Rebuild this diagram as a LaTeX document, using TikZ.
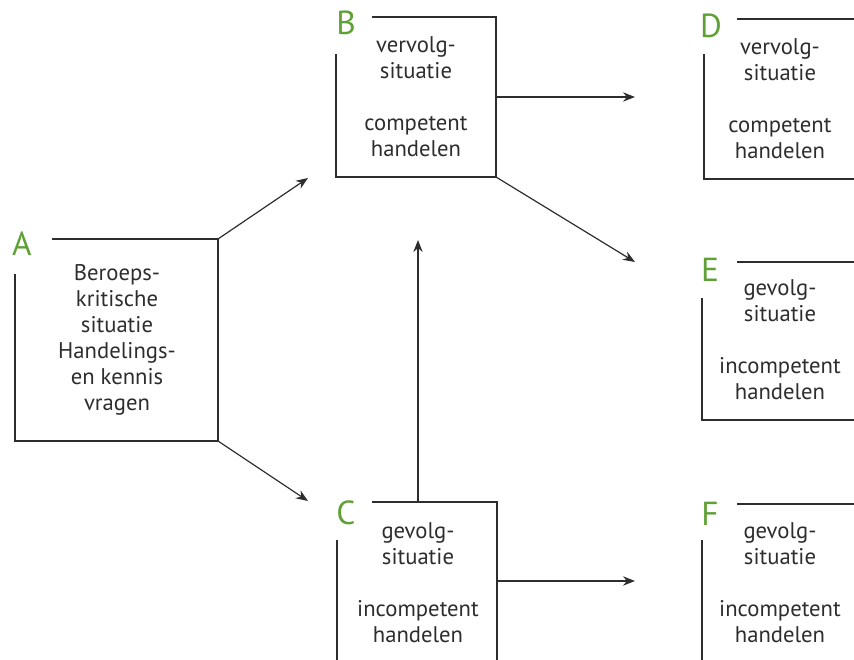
\documentclass[tikz,border=0pt]{standalone}
\usepackage{fontspec}
\setmainfont{PT Sans}
\usetikzlibrary{arrows.meta}
\definecolor{lijn}{RGB}{45,45,45}
\definecolor{letter}{RGB}{95,160,55}
\tikzstyle{every node}=[text=lijn,inner sep=0pt]
\tikzstyle{kader}=[draw=lijn,line width=1pt]
\tikzstyle{pijl}=[draw=lijn,line width=0.9pt,-{Stealth[length=9pt,width=7pt]}]
\tikzstyle{tekst}=[align=center,font=\fontsize{17}{19.5}\selectfont]
\tikzstyle{letter}=[text=letter,font=\fontsize{25}{25}\selectfont]

\begin{document}
\begin{tikzpicture}[x=0.75pt,y=-0.75pt]
  \useasboundingbox (0,0) rectangle (854,660);
  % hoeken van de kaders
  \coordinate (Ane) at (218,239);
  \coordinate (Ase) at (218,441);
  \coordinate (Be) at (496,97);
  \coordinate (Bse) at (496,177);
  \coordinate (Cn) at (418,502);
  \coordinate (Ce) at (497,581);
  \coordinate (Bin) at (308,178);
  \coordinate (Cin) at (308,501);
  \coordinate (Din) at (635,97);
  \coordinate (Ein) at (635,262);
  \coordinate (Bup) at (418,240);
  \coordinate (Fin) at (635,581);
  % kaders
  \draw[kader] (52,239) -- (Ane) -- (Ase) -- (15,441) -- (15,274);
  \draw[kader] (372,17) -- (496,17) -- (Bse) -- (336,177) -- (336,54);
  \draw[kader] (372,502) -- (497,502) -- (497,660);
  \draw[kader] (337,540) -- (337,660);
  \draw[kader] (737,19) -- (854,19);
  \draw[kader] (704,54) -- (704,179) -- (854,179);
  \draw[kader] (737,262) -- (854,262);
  \draw[kader] (702,298) -- (702,420) -- (854,420);
  \draw[kader] (737,504) -- (854,504);
  \draw[kader] (702,540) -- (702,660);
  % letters
  \node[letter] (lA) at (22,244) {A};
  \node[letter] (lB) at (346,23) {B};
  \node[letter] (lC) at (346,513) {C};
  \node[letter] (lD) at (711,26) {D};
  \node[letter] (lE) at (710,270) {E};
  \node[letter] (lF) at (710,514) {F};
  % teksten
  \node[tekst] (tA) at (117,340) {Beroeps-\\kritische\\situatie\\Handelings-\\en kennis\\vragen};
  \node[tekst] (tB) at (416,97) {vervolg-\\situatie\\[19.5pt]competent\\handelen};
  \node[tekst] (tC) at (418,583) {gevolg-\\situatie\\[19.5pt]incompetent\\handelen};
  \node[tekst] (tD) at (780,99) {vervolg-\\situatie\\[19.5pt]competent\\handelen};
  \node[tekst] (tE) at (780,340) {gevolg-\\situatie\\[19.5pt]incompetent\\handelen};
  \node[tekst] (tF) at (780,583) {gevolg-\\situatie\\[19.5pt]incompetent\\handelen};
  % pijlen
  \draw[pijl] (Ane) -- (Bin);
  \draw[pijl] (Ase) -- (Cin);
  \draw[pijl] (Be) -- (Din);
  \draw[pijl] (Bse) -- (Ein);
  \draw[pijl] (Cn) -- (Bup);
  \draw[pijl] (Ce) -- (Fin);
\end{tikzpicture}
\end{document}
